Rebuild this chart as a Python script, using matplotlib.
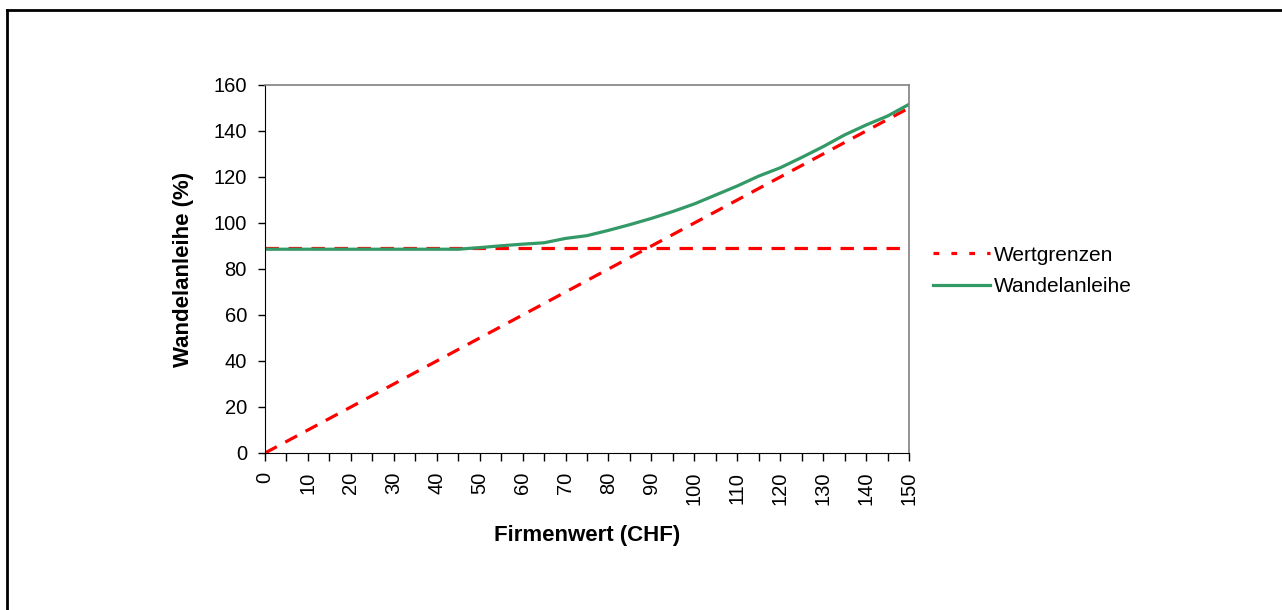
import matplotlib
matplotlib.use("Agg")
import matplotlib.pyplot as plt
from matplotlib.lines import Line2D
import numpy as np

plt.rcParams['font.family'] = ['Liberation Sans', 'DejaVu Sans']

firmenwert = [0, 5, 10, 15, 20, 25, 30, 35, 40, 45, 50, 55, 60, 65, 70, 75,
              80, 85, 90, 95, 100, 105, 110, 115, 120, 125, 130, 135, 140, 145, 150]
wandelanleihe = [88.6, 88.6, 88.6, 88.6, 88.6, 88.6, 88.6, 88.6, 88.6, 88.6, 89.3,
                 90.1, 90.8, 91.4, 93.3, 94.5, 96.8, 99.3, 102.0, 105.0, 108.3,
                 112.2, 116.1, 120.4, 124.0, 128.5, 133.2, 138.3, 142.6, 146.5, 151.6]
grenze_anleihe = [89.0] * len(firmenwert)
grenze_aktie = list(firmenwert)

W, H = 1282, 610
fig = plt.figure(figsize=(W / 100, H / 100), dpi=100)
ax = fig.add_axes([265 / W, 1 - 453 / H, (909 - 265) / W, (453 - 85) / H])

red = '#FF0000'
green = '#339966'
ax.plot(firmenwert, grenze_anleihe, color=red, lw=2.3, dashes=(4.2, 3.0))
ax.plot(firmenwert, grenze_aktie, color=red, lw=2.3, dashes=(4.2, 3.0))
ax.plot(firmenwert, wandelanleihe, color=green, lw=2.3)

ax.set_xlim(0, 150)
ax.set_ylim(0, 160)
ax.set_xticks(np.arange(0, 151, 10))
ax.set_xticks(np.arange(0, 151, 5), minor=True)
ax.set_yticks(np.arange(0, 161, 20))
ax.tick_params(axis='x', which='both', direction='out', length=5.5, width=1, labelsize=14.5, labelrotation=90, pad=8)
ax.tick_params(axis='y', direction='out', length=5, width=1, labelsize=14.5, pad=8)
for s in ['top', 'right']:
    ax.spines[s].set_color('#808080')
    ax.spines[s].set_linewidth(1.2)
for s in ['left', 'bottom']:
    ax.spines[s].set_color('black')
ax.set_xlabel('Firmenwert (CHF)', fontsize=16, fontweight='bold', labelpad=14)
ax.set_ylabel('Wandelanleihe (%)', fontsize=16, fontweight='bold', labelpad=14)

handles = [Line2D([], [], color=red, lw=2.3, dashes=(1.8, 3.8)),
           Line2D([], [], color=green, lw=2.3)]
fig.legend(handles, ['Wertgrenzen', 'Wandelanleihe'], loc='upper left',
           bbox_to_anchor=(914 / W, 1 - 227 / H), frameon=False, fontsize=15,
           handlelength=2.75, handletextpad=0.2, labelspacing=0.6)

# outer border
fig.add_artist(Line2D([7 / W, 7 / W], [0, 1 - 10 / H], color='black', lw=2, transform=fig.transFigure))
fig.add_artist(Line2D([7 / W, 1], [1 - 10 / H, 1 - 10 / H], color='black', lw=2, transform=fig.transFigure))

fig.savefig('out.png', dpi=100)
